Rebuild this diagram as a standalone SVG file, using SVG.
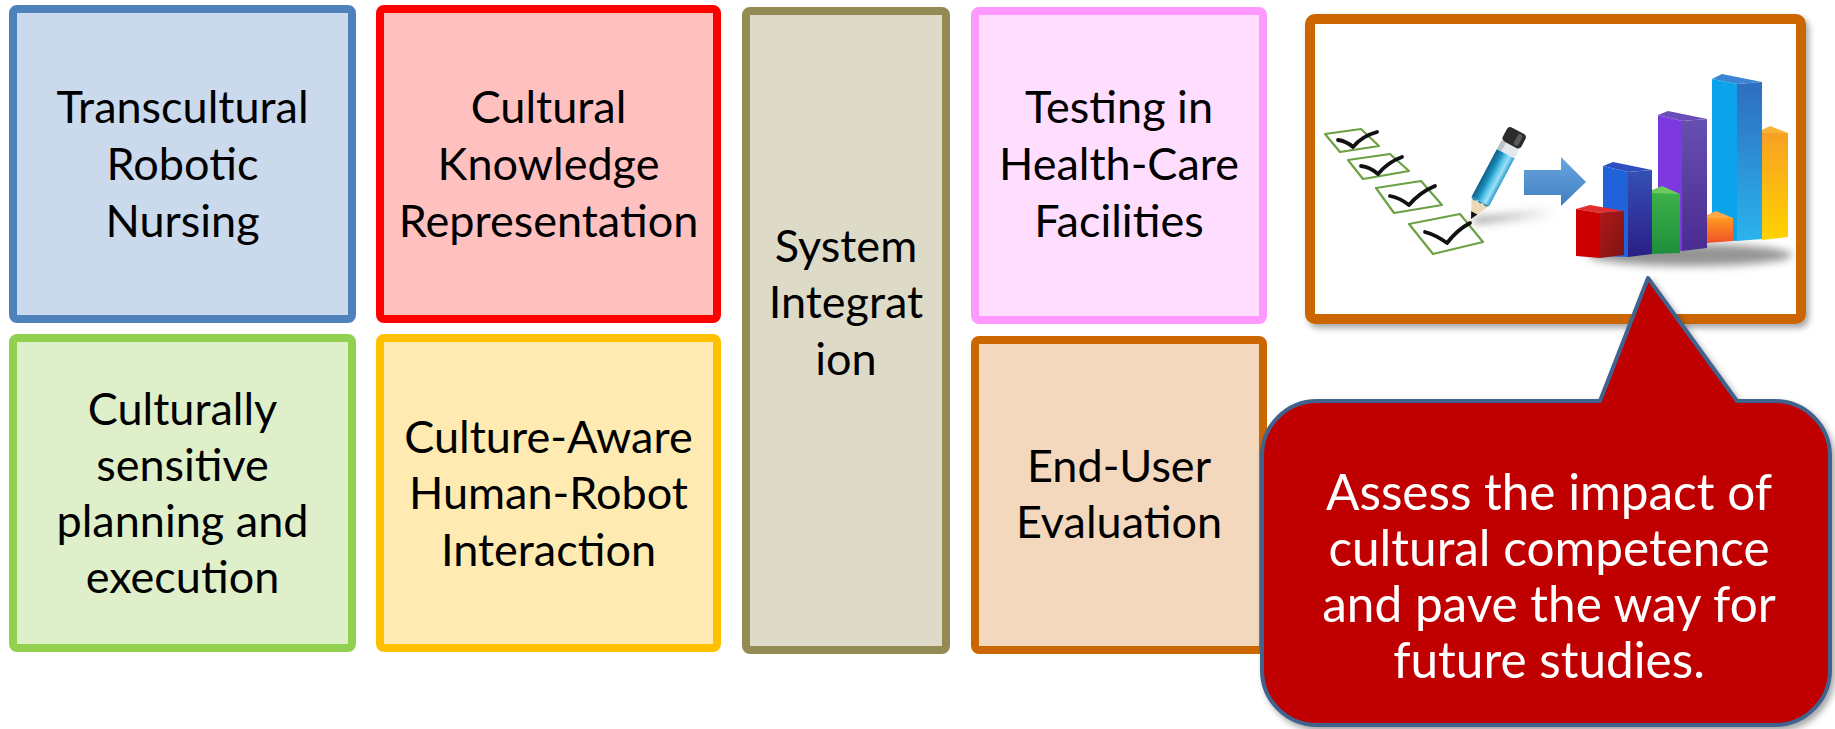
<svg xmlns="http://www.w3.org/2000/svg" width="1835" height="729" viewBox="0 0 1835 729">
  <style>
    .box { stroke-width: 8; }
    .lbl { font-family: Lato, "Liberation Sans", sans-serif; font-size: 45px; fill: #000; text-anchor: middle; }
    .call { font-family: Lato, "Liberation Sans", sans-serif; font-size: 49.5px; fill: #fff; text-anchor: middle; }
    .chk { fill: none; stroke: #6CA044; stroke-width: 2.2; stroke-linejoin: round; }
    .mark { fill: none; stroke: #111; stroke-width: 3.8; stroke-linecap: round; stroke-linejoin: round; }
  </style>
  <defs>
    <filter id="shadow" x="-10%" y="-10%" width="125%" height="125%">
      <feDropShadow dx="3" dy="4" stdDeviation="3" flood-color="#000" flood-opacity="0.35"/>
    </filter>
    <filter id="soft" x="-20%" y="-100%" width="140%" height="300%">
      <feGaussianBlur stdDeviation="4"/>
    </filter>
    <linearGradient id="pencilBody" x1="0" y1="0" x2="0" y2="1">
      <stop offset="0" stop-color="#0F5F86"/>
      <stop offset="0.3" stop-color="#1B8DBB"/>
      <stop offset="0.55" stop-color="#5CC8EC"/>
      <stop offset="0.75" stop-color="#9FE0F5"/>
      <stop offset="1" stop-color="#2A9CCB"/>
    </linearGradient>
    <linearGradient id="arrowFill" x1="0" y1="0" x2="0" y2="1">
      <stop offset="0" stop-color="#6AA6DE"/>
      <stop offset="1" stop-color="#3F7EC2"/>
    </linearGradient>
    <linearGradient id="pencilShadow" x1="0" y1="0" x2="1" y2="0">
      <stop offset="0" stop-color="#444" stop-opacity="0.8"/>
      <stop offset="1" stop-color="#999" stop-opacity="0"/>
    </linearGradient>
    <linearGradient id="redSide" x1="0" y1="0" x2="1" y2="1">
      <stop offset="0" stop-color="#B01818"/>
      <stop offset="1" stop-color="#7E1414"/>
    </linearGradient>
    <linearGradient id="blueSide" x1="0" y1="0" x2="0" y2="1">
      <stop offset="0" stop-color="#3550B5"/>
      <stop offset="1" stop-color="#2A1E86"/>
    </linearGradient>
    <linearGradient id="purpleSide" x1="0" y1="0" x2="0" y2="1">
      <stop offset="0" stop-color="#6550B0"/>
      <stop offset="1" stop-color="#4A2C92"/>
    </linearGradient>
    <linearGradient id="cyanSide" x1="0" y1="0" x2="0" y2="1">
      <stop offset="0" stop-color="#2F6DBE"/>
      <stop offset="1" stop-color="#2AB4EC"/>
    </linearGradient>
    <linearGradient id="orangeFront" x1="0" y1="0" x2="0" y2="1">
      <stop offset="0" stop-color="#FF9A1E"/>
      <stop offset="1" stop-color="#F0502A"/>
    </linearGradient>
    <linearGradient id="yellowFront" x1="0" y1="0" x2="0" y2="1">
      <stop offset="0" stop-color="#F7A024"/>
      <stop offset="1" stop-color="#FFD200"/>
    </linearGradient>
    <linearGradient id="greenSide" x1="0" y1="0" x2="0" y2="1">
      <stop offset="0" stop-color="#3DB14A"/>
      <stop offset="1" stop-color="#1E8E3A"/>
    </linearGradient>
  </defs>

  <rect width="1835" height="729" fill="#fff"/>

  <g id="transcultural-robotic-nursing">
    <rect class="box" x="13" y="9" width="339" height="310" rx="4" fill="#CAD9EC" stroke="#4F81BD"/>
    <text class="lbl" x="182.5" y="123">Transcultural</text>
    <text class="lbl" x="182.5" y="180">Robotic</text>
    <text class="lbl" x="182.5" y="237">Nursing</text>
  </g>

  <g id="cultural-knowledge-representation">
    <rect class="box" x="380" y="9" width="337" height="310" rx="4" fill="#FFC0C0" stroke="#FF0000"/>
    <text class="lbl" x="548.5" y="123">Cultural</text>
    <text class="lbl" x="548.5" y="180">Knowledge</text>
    <text class="lbl" x="548.5" y="237">Representation</text>
  </g>

  <g id="culturally-sensitive-planning">
    <rect class="box" x="13" y="338" width="339" height="310" rx="4" fill="#DEEFCA" stroke="#92D050"/>
    <text class="lbl" x="182.5" y="425">Culturally</text>
    <text class="lbl" x="182.5" y="481">sensitive</text>
    <text class="lbl" x="182.5" y="537">planning and</text>
    <text class="lbl" x="182.5" y="593">execution</text>
  </g>

  <g id="culture-aware-hri">
    <rect class="box" x="380" y="338" width="337" height="310" rx="4" fill="#FFEAB2" stroke="#FFC000"/>
    <text class="lbl" x="548.5" y="453">Culture-Aware</text>
    <text class="lbl" x="548.5" y="509">Human-Robot</text>
    <text class="lbl" x="548.5" y="566">Interaction</text>
  </g>

  <g id="system-integration">
    <rect class="box" x="746" y="11" width="200" height="639" rx="4" fill="#DEDAC8" stroke="#948A54"/>
    <text class="lbl" x="846" y="262">System</text>
    <text class="lbl" x="846" y="318">Integrat</text>
    <text class="lbl" x="846" y="375">ion</text>
  </g>

  <g id="testing-health-care">
    <rect class="box" x="975" y="11" width="288" height="309" rx="4" fill="#FFDDFF" stroke="#FF99FF"/>
    <text class="lbl" x="1119" y="123">Testing in</text>
    <text class="lbl" x="1119" y="180">Health-Care</text>
    <text class="lbl" x="1119" y="237">Facilities</text>
  </g>

  <g id="end-user-evaluation">
    <rect class="box" x="975" y="340" width="288" height="310" rx="4" fill="#F3D8BE" stroke="#CC6600"/>
    <text class="lbl" x="1119" y="482">End-User</text>
    <text class="lbl" x="1119" y="538">Evaluation</text>
  </g>

  <g id="evaluation-picture">
    <rect x="1310" y="19" width="491" height="300" rx="5" fill="#fff" stroke="#CC6600" stroke-width="10" filter="url(#shadow)"/>

    <!-- checklist -->
    <polygon class="chk" points="1325,134 1361,129 1379,146 1340,152"/>
    <polygon class="chk" points="1348,160 1390,154 1409,171 1363,179"/>
    <polygon class="chk" points="1376,188 1421,181 1442,205 1394,213"/>
    <polygon class="chk" points="1409,224 1460,214 1483,242 1433,254"/>
    <path class="mark" d="M1338,140 Q1346,141 1353,147 Q1362,136 1377,132"/>
    <path class="mark" d="M1361,166 Q1370,167 1378,174 Q1388,162 1402,157"/>
    <path class="mark" d="M1390,196 Q1400,198 1409,205 Q1420,192 1435,186"/>
    <path class="mark" d="M1425,232 Q1436,235 1447,243 Q1457,230 1470,223"/>

    <!-- pencil and its shadow -->
    <polygon points="1471,219 1555,207 1556,217 1476,223" fill="url(#pencilShadow)" filter="url(#soft)"/>
    <g transform="translate(1471,219) rotate(-62)">
      <polygon points="0,0 20,-10 20,10" fill="#E9D9B6"/>
      <polygon points="0,0 7,-3.5 7,3.5" fill="#111"/>
      <path d="M20,-10 Q16,-6 20,-3 Q16,0 20,3 Q16,6 20,10 Z" fill="#1B8DBB"/>
      <rect x="20" y="-10" width="54" height="20" fill="url(#pencilBody)"/>
      <rect x="74" y="-10" width="10" height="20" fill="#E2E8EC"/>
      <rect x="74" y="-10" width="10" height="5" fill="#B8C2C8"/>
      <rect x="84" y="-10.5" width="16" height="21" rx="4" fill="#2B2B2B"/>
      <rect x="86" y="2" width="12" height="5" rx="2" fill="#5A5A5A"/>
    </g>

    <!-- arrow -->
    <polygon points="1524,170 1561,170 1561,157 1586,182 1561,206 1561,195 1524,195" fill="url(#arrowFill)"/>

    <!-- bar chart -->
    <ellipse cx="1690" cy="255" rx="102" ry="11" fill="#7A7A7A" opacity="0.8" filter="url(#soft)"/>
    <!-- yellow -->
    <polygon points="1762,130 1770,126 1788,133 1762,136" fill="#F5B436"/>
    <polygon points="1762,133 1788,133 1788,237 1762,240" fill="url(#yellowFront)"/>
    <!-- cyan -->
    <polygon points="1712,79 1722,74 1762,82 1737,84" fill="#3A86D2"/>
    <polygon points="1712,79 1737,84 1737,241 1712,240" fill="#0BA3EA"/>
    <polygon points="1737,84 1762,82 1762,239 1737,241" fill="url(#cyanSide)"/>
    <!-- orange -->
    <polygon points="1707,215 1716,211 1733,218 1707,219" fill="#FFA84A"/>
    <polygon points="1707,218 1733,218 1733,241 1707,243" fill="url(#orangeFront)"/>
    <!-- purple -->
    <polygon points="1658,115 1668,111 1707,119 1682,121" fill="#6B4DBA"/>
    <polygon points="1658,115 1682,121 1682,251 1658,250" fill="#7E38E0"/>
    <polygon points="1682,121 1707,119 1707,248 1682,251" fill="url(#purpleSide)"/>
    <!-- green -->
    <polygon points="1652,190 1662,186 1680,194 1652,196" fill="#6CCB5A"/>
    <polygon points="1652,193 1680,194 1680,253 1652,254" fill="url(#greenSide)"/>
    <!-- blue -->
    <polygon points="1603,166 1613,162 1652,170 1628,172" fill="#2E4FC0"/>
    <polygon points="1603,166 1628,172 1628,257 1603,256" fill="#1F62DA"/>
    <polygon points="1628,172 1652,170 1652,254 1628,257" fill="url(#blueSide)"/>
    <!-- red -->
    <polygon points="1576,209 1590,205 1624,211 1600,213" fill="#E23030"/>
    <polygon points="1576,209 1600,213 1600,258 1576,256" fill="#CC0000"/>
    <polygon points="1600,213 1624,211 1624,255 1600,258" fill="url(#redSide)"/>
  </g>

  <g id="impact-callout">
    <path d="M1317,401 L1600,401 L1648,278 L1737,401 L1775,401 A55,55 0 0 1 1830,456 L1830,670 A55,55 0 0 1 1775,725 L1317,725 A55,55 0 0 1 1262,670 L1262,456 A55,55 0 0 1 1317,401 Z" fill="#C00000" stroke="#41628C" stroke-width="4" stroke-linejoin="round" filter="url(#shadow)"/>
    <text class="call" x="1549" y="510">Assess the impact of</text>
    <text class="call" x="1549" y="566">cultural competence</text>
    <text class="call" x="1549" y="622">and pave the way for</text>
    <text class="call" x="1549" y="678">future studies.</text>
  </g>
</svg>
